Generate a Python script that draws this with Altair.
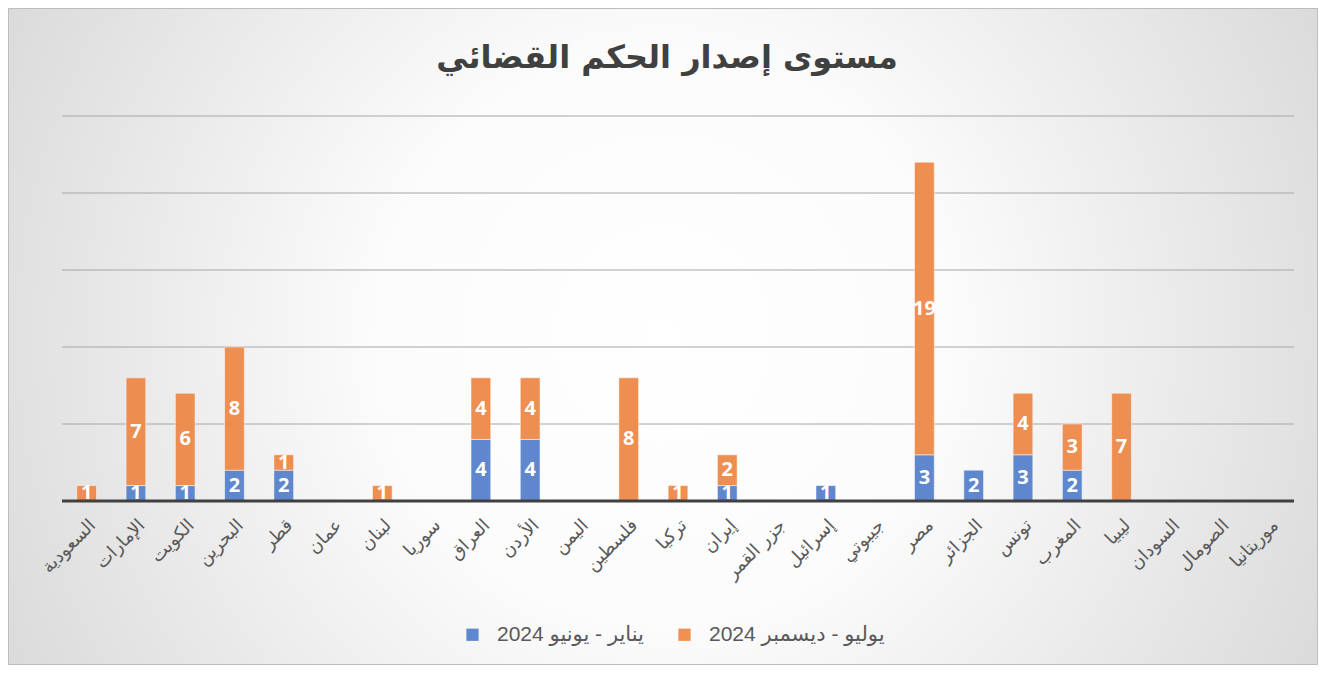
import altair as alt
import pandas as pd

countries = ["السعودية", "الإمارات", "الكويت", "البحرين", "قطر", "عمان", "لبنان", "سوريا",
             "العراق", "الأردن", "اليمن", "فلسطين", "تركيا", "إيران", "جزر القمر", "إسرائيل",
             "جيبوتي", "مصر", "الجزائر", "تونس", "المغرب", "ليبيا", "السودان", "الصومال", "موريتانيا"]
first_half = [0, 1, 1, 2, 2, 0, 0, 0, 4, 4, 0, 0, 0, 1, 0, 1, 0, 3, 2, 3, 2, 0, 0, 0, 0]
second_half = [1, 7, 6, 8, 1, 0, 1, 0, 4, 4, 0, 8, 1, 2, 0, 0, 0, 19, 0, 4, 3, 7, 0, 0, 0]
series = ["يناير - يونيو 2024", "يوليو - ديسمبر 2024"]
colors = ["#5B84CC", "#EE8B4B"]
grid_values = [5, 10, 15, 20, 25]
title_text = "مستوى إصدار الحكم القضائي"

rows = []
for c, a, b in zip(countries, first_half, second_half):
    rows.append({"country": c, "series": series[0], "order": 0, "value": a})
    rows.append({"country": c, "series": series[1], "order": 1, "value": b})
df = pd.DataFrame(rows)
grid_df = pd.DataFrame({"g": grid_values})

W, H = 1232, 385
PL, PT, PR, PB = 54, 108, 24, 164

xenc = alt.X("country:N", sort=countries,
             scale=alt.Scale(domain=countries, paddingInner=0.6, paddingOuter=0.3),
             axis=alt.Axis(title=None, labelAngle=-45, labelFontSize=18, labelColor="#595959",
                           labelFont="DejaVu Sans", ticks=False, domain=False, grid=False,
                           labelPadding=15, zindex=1, labelLimit=0))
yscale = alt.Scale(domain=[0, 25], nice=False)

base = alt.Chart(df).transform_stack(
    stack="value", groupby=["country"], as_=["v0", "v1"],
    sort=[alt.SortField("order", order="ascending")]
).transform_calculate(mid="(datum.v0 + datum.v1) / 2")

bars = base.transform_filter("datum.value > 0").mark_bar(
    stroke="#ffffff", strokeOpacity=0.5, strokeWidth=1, opacity=0.97
).encode(
    x=xenc,
    y=alt.Y("v0:Q", scale=yscale, axis=None),
    y2="v1:Q",
    color=alt.Color("series:N", scale=alt.Scale(domain=series, range=colors),
                    legend=alt.Legend(title=None, orient="none", legendX=400, legendY=508,
                                      direction="horizontal", symbolType="square", symbolSize=150,
                                      symbolStrokeWidth=0, labelFontSize=21, labelColor="#595959",
                                      labelFont="Liberation Sans, DejaVu Sans", columnPadding=30,
                                      labelOffset=14, labelLimit=400)),
    order=alt.Order("order:Q"),
)

labels = base.transform_filter("datum.value > 0").mark_text(
    color="white", fontWeight="bold", fontSize=20, font="Open Sans", baseline="middle"
).encode(x=xenc, y="mid:Q", text="value:Q")

one = alt.Data(values=[{}])

bg = alt.Chart(one).mark_rect(
    fill={"gradient": "radial", "x1": 0.5, "y1": 0.5, "x2": 0.5, "y2": 0.5, "r1": 0, "r2": 0.5,
          "stops": [{"offset": 0, "color": "#ffffff"}, {"offset": 0.3, "color": "#fbfbfb"},
                    {"offset": 1, "color": "#c8c8c8"}]}
).encode(x=alt.value(-PL), x2=alt.value(W + PR), y=alt.value(-PT - 650), y2=alt.value(H + PB + 650))

grid = alt.Chart(grid_df).mark_rule(color="#a6a6a6", strokeWidth=1).encode(
    y=alt.Y("g:Q", scale=yscale, axis=None))

baseline = alt.Chart(one).mark_rule(color="#404040", strokeWidth=3).encode(y=alt.datum(0))

title = alt.Chart(one).mark_text(
    text=title_text, fontSize=32, font="DejaVu Sans", fontWeight="bold", color="#404040",
    align="center", baseline="alphabetic"
).encode(x=alt.value(605), y=alt.value(-48))

border = alt.Chart(one).mark_rect(fill="transparent", stroke="#bdbdbd", strokeWidth=1).encode(
    x=alt.value(-PL + 0.5), x2=alt.value(W + PR - 0.5), y=alt.value(-PT + 0.5), y2=alt.value(H + PB - 0.5))

chart = alt.layer(bg, grid, bars, labels, baseline, title, border).properties(
    width=W, height=H,
    padding={"left": PL, "top": PT, "right": PR, "bottom": PB},
    autosize=alt.AutoSizeParams(type="none"),
).configure_view(stroke=None).configure(background="#d0d0d0")

chart.save("out.html", embed_options={"renderer": "svg", "actions": False})
